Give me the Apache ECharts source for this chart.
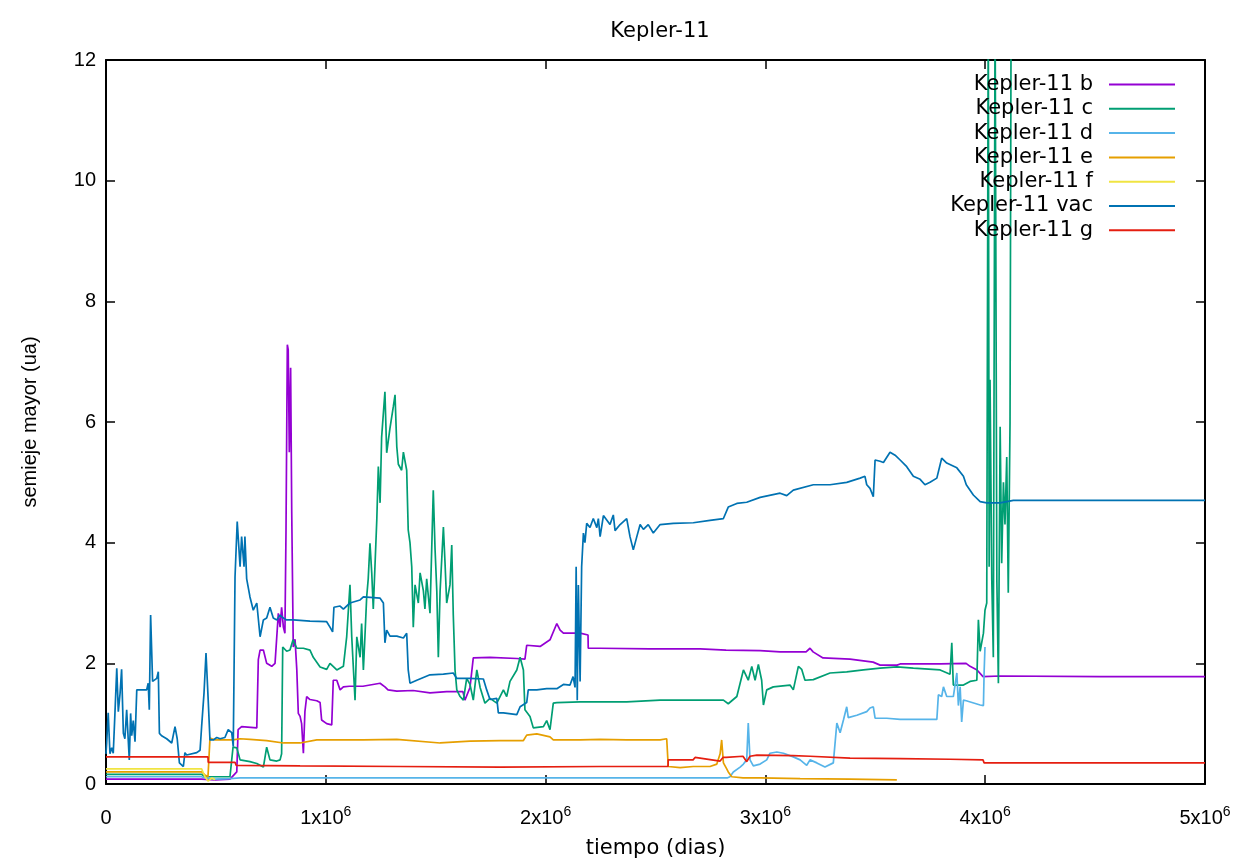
<!DOCTYPE html>
<html>
<head>
<meta charset="utf-8">
<script src="https://cdn.jsdelivr.net/npm/echarts@6/dist/echarts.min.js"></script>
<style>html,body{margin:0;padding:0;background:#fff}#c{width:1243px;height:859px}</style>
</head>
<body>
<div id="c"></div>
<script>
const seriesNames = ['Kepler-11 b','Kepler-11 c','Kepler-11 d','Kepler-11 e','Kepler-11 f','Kepler-11 vac','Kepler-11 g'];
const xTicks = [0, 1000000, 2000000, 3000000, 4000000, 5000000];
const yTicks = [0, 2, 4, 6, 8, 10, 12];

const keplerB = [[0,0.08],[435000,0.08],[496000,0.07],[564000,0.08],[595000,0.2],[601000,0.9],[617000,0.95],[686000,0.93],[693000,2.06],[701000,2.22],[716000,2.22],[731000,2.0],[754000,1.95],[769000,2.0],[784000,2.83],[792000,2.6],[799000,2.93],[807000,2.6],[814000,2.5],[819000,4.21],[825000,7.28],[829000,7.2],[834000,5.5],[840000,6.9],[845000,4.5],[852000,2.27],[860000,2.4],[868000,1.9],[875000,1.17],[883000,1.12],[890000,1.0],[898000,0.51],[905000,1.2],[913000,1.45],[928000,1.4],[959000,1.38],[974000,1.35],[981000,1.06],[1004000,1.0],[1027000,0.98],[1034000,1.72],[1050000,1.72],[1065000,1.56],[1080000,1.61],[1107000,1.62],[1169000,1.62],[1247000,1.67],[1269000,1.61],[1283000,1.56],[1323000,1.54],[1397000,1.55],[1474000,1.51],[1550000,1.53],[1624000,1.53],[1633000,1.39],[1656000,1.6],[1671000,2.09],[1747000,2.1],[1869000,2.08],[1906000,2.07],[1914000,2.3],[1975000,2.28],[2020000,2.39],[2051000,2.66],[2066000,2.55],[2081000,2.5],[2111000,2.5],[2157000,2.5],[2193000,2.47],[2194000,2.25],[2248000,2.25],[2475000,2.24],[2703000,2.24],[2821000,2.22],[2976000,2.21],[3067000,2.19],[3185000,2.19],[3203000,2.25],[3217000,2.19],[3262000,2.09],[3385000,2.07],[3490000,2.02],[3522000,1.97],[3599000,1.97],[3613000,1.99],[3795000,1.99],[3913000,2.0],[3931000,1.95],[3963000,1.89],[3990000,1.78],[4068000,1.79],[4523000,1.78],[5000000,1.78]];

const keplerC = [[0,0.16],[435000,0.16],[450000,0.12],[564000,0.12],[578000,0.61],[595000,0.6],[610000,0.4],[655000,0.37],[686000,0.34],[716000,0.28],[731000,0.61],[746000,0.4],[777000,0.38],[792000,0.4],[799000,0.5],[804000,2.27],[822000,2.2],[837000,2.22],[851000,2.39],[868000,2.25],[898000,2.25],[928000,2.22],[943000,2.1],[974000,1.94],[1004000,1.9],[1019000,2.0],[1050000,1.89],[1080000,1.95],[1095000,2.44],[1110000,3.3],[1118000,2.44],[1133000,1.39],[1141000,2.44],[1156000,2.1],[1163000,2.66],[1171000,1.89],[1178000,2.44],[1186000,3.1],[1193000,3.4],[1201000,3.99],[1209000,3.5],[1216000,2.9],[1232000,4.38],[1239000,5.26],[1247000,4.66],[1254000,5.75],[1269000,6.5],[1277000,5.49],[1292000,5.9],[1307000,6.25],[1315000,6.45],[1323000,5.59],[1330000,5.3],[1345000,5.2],[1353000,5.5],[1368000,5.2],[1375000,4.21],[1383000,4.0],[1391000,3.6],[1398000,2.6],[1406000,3.3],[1421000,3.0],[1429000,3.5],[1444000,3.2],[1451000,2.9],[1459000,3.4],[1474000,2.83],[1489000,4.87],[1497000,3.9],[1505000,3.2],[1512000,2.1],[1520000,3.2],[1535000,4.26],[1542000,3.7],[1550000,3.0],[1565000,3.3],[1573000,3.96],[1580000,2.8],[1588000,1.89],[1596000,1.56],[1611000,1.45],[1626000,1.39],[1641000,1.75],[1656000,1.65],[1671000,1.39],[1687000,1.89],[1702000,1.6],[1724000,1.34],[1747000,1.42],[1778000,1.34],[1808000,1.56],[1823000,1.45],[1838000,1.7],[1869000,1.89],[1884000,2.1],[1899000,1.89],[1906000,1.23],[1929000,1.12],[1944000,0.93],[1990000,0.95],[2005000,1.05],[2020000,0.9],[2035000,1.34],[2051000,1.35],[2157000,1.36],[2248000,1.36],[2369000,1.36],[2521000,1.39],[2672000,1.39],[2809000,1.39],[2831000,1.33],[2870000,1.45],[2900000,1.89],[2922000,1.72],[2938000,1.95],[2953000,1.72],[2968000,1.98],[2983000,1.72],[2991000,1.31],[3006000,1.56],[3036000,1.61],[3112000,1.64],[3127000,1.56],[3150000,1.95],[3165000,1.9],[3180000,1.72],[3218000,1.73],[3294000,1.84],[3370000,1.86],[3446000,1.89],[3522000,1.92],[3598000,1.94],[3673000,1.92],[3795000,1.89],[3840000,1.82],[3848000,2.34],[3855000,1.64],[3901000,1.64],[3931000,1.7],[3962000,1.72],[3969000,2.72],[3977000,2.2],[3992000,2.5],[3999000,2.88],[4007000,3.0],[4014000,13],[4018000,3.6],[4022000,6.7],[4030000,3.38],[4037000,2.1],[4045000,13],[4053000,3.38],[4060000,1.67],[4068000,5.92],[4075000,3.66],[4083000,5.0],[4090000,4.3],[4098000,5.42],[4105000,3.17],[4113000,6.0],[4118000,13]];

const keplerD = [[0,0.12],[435000,0.12],[450000,0.1],[496000,0.08],[564000,0.09],[610000,0.1],[883000,0.1],[1338000,0.1],[1702000,0.1],[2248000,0.1],[2703000,0.1],[2826000,0.1],[2839000,0.12],[2854000,0.2],[2885000,0.28],[2900000,0.33],[2915000,0.4],[2922000,1.01],[2930000,0.4],[2945000,0.3],[2976000,0.33],[3006000,0.4],[3021000,0.51],[3052000,0.53],[3082000,0.51],[3127000,0.45],[3158000,0.4],[3188000,0.31],[3203000,0.4],[3234000,0.35],[3271000,0.28],[3309000,0.35],[3317000,0.38],[3325000,1.01],[3340000,0.85],[3355000,1.06],[3370000,1.28],[3377000,1.1],[3416000,1.14],[3461000,1.2],[3476000,1.26],[3491000,1.28],[3499000,1.09],[3552000,1.09],[3613000,1.07],[3689000,1.07],[3780000,1.07],[3787000,1.48],[3802000,1.45],[3810000,1.61],[3825000,1.45],[3855000,1.45],[3871000,1.84],[3878000,1.3],[3886000,1.61],[3893000,1.03],[3901000,1.39],[3914000,1.38],[3977000,1.31],[3992000,1.3],[3995000,1.84],[3999000,2.27]];

const keplerE = [[0,0.2],[435000,0.2],[450000,0.15],[464000,0.12],[473000,0.76],[496000,0.73],[578000,0.73],[610000,0.75],[655000,0.74],[731000,0.72],[807000,0.68],[883000,0.68],[959000,0.73],[1034000,0.73],[1171000,0.73],[1323000,0.74],[1520000,0.68],[1656000,0.71],[1793000,0.72],[1899000,0.72],[1914000,0.81],[1960000,0.83],[2020000,0.78],[2035000,0.73],[2157000,0.73],[2248000,0.74],[2369000,0.73],[2521000,0.73],[2551000,0.75],[2558000,0.29],[2612000,0.27],[2672000,0.29],[2748000,0.29],[2779000,0.33],[2794000,0.5],[2801000,0.73],[2809000,0.35],[2824000,0.25],[2831000,0.2],[2847000,0.12],[2898000,0.1],[2976000,0.1],[3158000,0.09],[3385000,0.08],[3598000,0.07]];

const keplerF = [[0,0.25],[435000,0.25],[450000,0.12],[464000,0.05],[482000,0.1],[496000,0.07]];

const keplerVac = [[0,0.5],[3000,0.68],[10000,1.18],[18000,0.5],[26000,0.6],[33000,0.51],[41000,1.2],[49000,1.92],[56000,1.2],[64000,1.5],[71000,1.9],[79000,0.84],[86000,0.75],[94000,1.23],[101000,1.23],[106000,0.4],[112000,1.17],[117000,0.8],[124000,1.05],[132000,0.7],[140000,1.56],[185000,1.56],[192000,1.67],[197000,1.23],[203000,2.8],[212000,1.7],[218000,1.68],[231000,1.75],[238000,1.86],[243000,0.84],[253000,0.8],[276000,0.75],[299000,0.68],[314000,0.95],[324000,0.75],[334000,0.35],[352000,0.29],[359000,0.52],[367000,0.48],[413000,0.52],[428000,0.56],[435000,0.95],[446000,1.51],[455000,2.17],[465000,1.39],[473000,0.73],[488000,0.73],[504000,0.77],[519000,0.75],[541000,0.77],[556000,0.9],[572000,0.85],[579000,0.62],[587000,3.43],[597000,4.35],[610000,3.6],[617000,4.1],[628000,3.6],[632000,4.1],[640000,3.4],[655000,3.1],[670000,2.88],[686000,3.0],[701000,2.44],[716000,2.72],[731000,2.75],[746000,2.93],[761000,2.75],[777000,2.72],[792000,2.8],[807000,2.75],[822000,2.72],[852000,2.72],[928000,2.7],[1004000,2.69],[1019000,2.6],[1031000,2.52],[1037000,2.93],[1065000,2.95],[1080000,2.9],[1110000,3.0],[1156000,3.05],[1171000,3.1],[1247000,3.08],[1262000,3.0],[1269000,2.34],[1277000,2.55],[1292000,2.45],[1323000,2.45],[1353000,2.42],[1368000,2.5],[1375000,1.89],[1383000,1.67],[1414000,1.72],[1474000,1.81],[1535000,1.82],[1580000,1.84],[1596000,1.75],[1656000,1.75],[1717000,1.74],[1732000,1.56],[1747000,1.4],[1778000,1.42],[1785000,1.18],[1808000,1.18],[1869000,1.15],[1884000,1.28],[1914000,1.35],[1921000,1.56],[1960000,1.56],[2005000,1.58],[2051000,1.58],[2081000,1.65],[2111000,1.64],[2125000,1.78],[2134000,1.6],[2139000,3.6],[2144000,1.39],[2149000,3.3],[2157000,1.7],[2164000,3.6],[2172000,4.16],[2179000,4.0],[2187000,4.32],[2202000,4.25],[2217000,4.4],[2233000,4.25],[2240000,4.4],[2248000,4.1],[2263000,4.45],[2293000,4.3],[2308000,4.46],[2316000,4.2],[2339000,4.3],[2369000,4.4],[2384000,4.1],[2399000,3.88],[2415000,4.1],[2430000,4.3],[2445000,4.22],[2467000,4.3],[2490000,4.16],[2521000,4.3],[2581000,4.32],[2672000,4.33],[2748000,4.37],[2809000,4.4],[2831000,4.59],[2870000,4.65],[2915000,4.67],[2976000,4.75],[3067000,4.82],[3097000,4.78],[3127000,4.87],[3218000,4.96],[3294000,4.96],[3370000,5.0],[3431000,5.07],[3453000,5.1],[3461000,4.96],[3476000,4.9],[3491000,4.76],[3499000,5.37],[3522000,5.35],[3537000,5.33],[3567000,5.5],[3590000,5.45],[3613000,5.37],[3643000,5.26],[3673000,5.1],[3704000,5.05],[3726000,4.96],[3749000,5.0],[3780000,5.07],[3802000,5.4],[3825000,5.32],[3871000,5.24],[3901000,5.1],[3914000,4.96],[3946000,4.79],[3977000,4.68],[4007000,4.66],[4068000,4.66],[4128000,4.7],[4523000,4.7],[5000000,4.7]];

const keplerG = [[0,0.45],[464000,0.45],[465000,0.36],[587000,0.36],[592000,0.31],[883000,0.3],[1338000,0.29],[1793000,0.28],[2248000,0.29],[2557000,0.29],[2558000,0.4],[2671000,0.4],[2680000,0.44],[2794000,0.38],[2807000,0.44],[2821000,0.44],[2898000,0.46],[2915000,0.37],[2930000,0.46],[2961000,0.48],[3126000,0.47],[3203000,0.46],[3385000,0.43],[3613000,0.42],[3840000,0.41],[3990000,0.4],[3995000,0.35],[4523000,0.35],[5000000,0.35]];

const allData = [keplerB, keplerC, keplerD, keplerE, keplerF, keplerVac, keplerG];
const colors = ['#9400d3', '#009e73', '#56b4e9', '#e69f00', '#f0e442', '#0072b2', '#e51e10'];

const FONT = 'Liberation Sans, Arial, sans-serif';
const WIDE = 'DejaVu Sans, sans-serif';
const chart = echarts.init(document.getElementById('c'), null, {renderer: 'canvas'});

const xFmt = v => v === 0 ? '{z|0}' : (v / 1e6) + 'x10{sup|6}';

const axisCommon = {
  axisLine: {show: true, onZero: false, lineStyle: {color: '#000', width: 2}},
  axisTick: {show: true, inside: true, length: 9, lineStyle: {color: '#000', width: 1.5}},
  splitLine: {show: false}
};

chart.setOption({
  animation: false,
  backgroundColor: '#fff',
  title: {
    text: 'Kepler-11', left: 655, top: 16, textAlign: 'center',
    textStyle: {fontFamily: WIDE, fontSize: 21, fontWeight: 'normal', color: '#000'}
  },
  grid: {left: 106, right: 38, top: 60, bottom: 75, containLabel: false, outerBoundsMode: 'none'},
  legend: {
    orient: 'vertical', right: 63, top: 69, align: 'right',
    icon: 'rect', itemWidth: 66, itemHeight: 2, itemGap: 3.3,
    data: seriesNames,
    textStyle: {fontFamily: WIDE, fontSize: 21, color: '#000', lineHeight: 21, padding: [0, 11, 0, 0]}
  },
  xAxis: [
    Object.assign({}, axisCommon, {
      type: 'value', min: xTicks[0], max: xTicks[xTicks.length - 1], interval: 1000000,
      name: 'tiempo (dias)', nameLocation: 'middle', nameGap: 54,
      nameTextStyle: {fontFamily: WIDE, fontSize: 21, color: '#000'},
      axisLabel: {
        color: '#000', fontFamily: FONT, fontSize: 20, margin: 21, formatter: xFmt,
        rich: {
          sup: {fontSize: 14, fontFamily: FONT, color: '#000', padding: [0, 0, 12, 0]},
          z: {fontSize: 20, fontFamily: FONT, color: '#000', padding: [3, 0, 0, 0]}
        }
      }
    }),
    Object.assign({}, axisCommon, {
      type: 'value', position: 'top', min: xTicks[0], max: xTicks[xTicks.length - 1], interval: 1000000,
      axisLabel: {show: false}
    })
  ],
  yAxis: [
    Object.assign({}, axisCommon, {
      type: 'value', min: yTicks[0], max: yTicks[yTicks.length - 1], interval: 2,
      name: 'semieje mayor (ua)', nameLocation: 'middle', nameGap: 66, nameRotate: 90,
      nameTextStyle: {fontFamily: FONT, fontSize: 20, color: '#000'},
      axisLabel: {color: '#000', fontFamily: FONT, fontSize: 20, margin: 10}
    }),
    Object.assign({}, axisCommon, {
      type: 'value', position: 'right', min: yTicks[0], max: yTicks[yTicks.length - 1], interval: 2,
      axisLabel: {show: false}
    })
  ],
  series: seriesNames.map((name, i) => ({
    name: name, type: 'line', data: allData[i], xAxisIndex: 0, yAxisIndex: 0,
    showSymbol: false, symbol: 'none', clip: true, sampling: null,
    lineStyle: {color: colors[i], width: 1.7},
    itemStyle: {color: colors[i]},
    emphasis: {disabled: true}
  }))
});
</script>
</body>
</html>
